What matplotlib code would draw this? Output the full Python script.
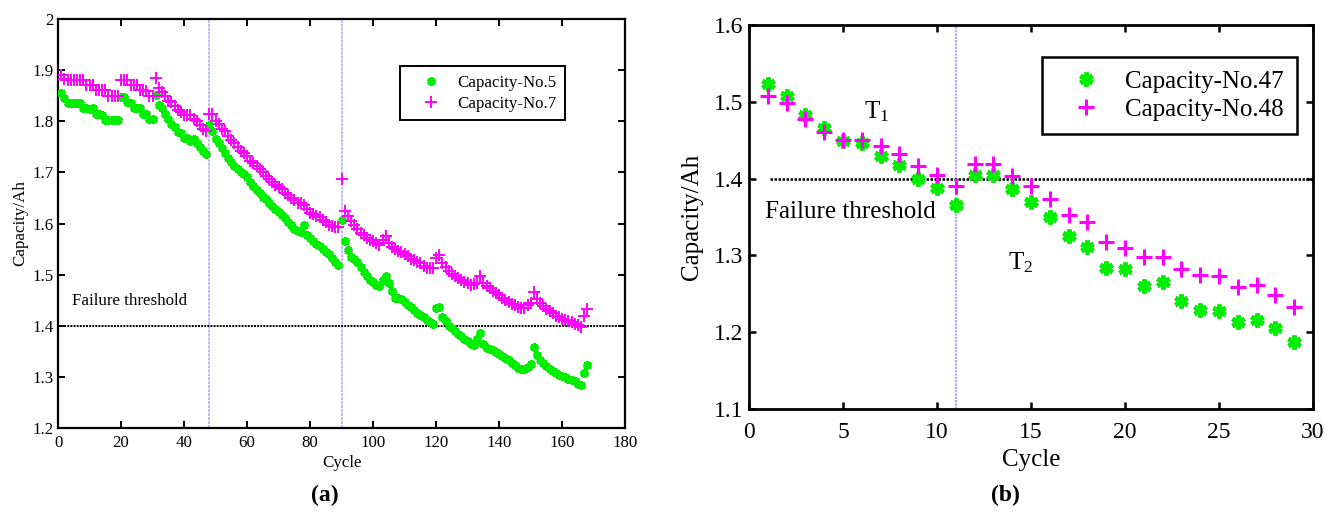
import numpy as np
import matplotlib
matplotlib.use("Agg")
import matplotlib.pyplot as plt

plt.rcParams['font.family'] = ['Liberation Serif', 'DejaVu Serif']
plt.rcParams['mathtext.fontset'] = 'stix'

# ---------------- Panel (a) data: NASA battery No.5 / No.7 ----------------
cap5_seg1 = [1.856, 1.846, 1.835, 1.835, 1.835, 1.836, 1.835, 1.825, 1.825, 1.824,
             1.825, 1.814, 1.814, 1.813, 1.803, 1.802, 1.803, 1.803, 1.803]
cap5_seg2 = [1.847, 1.847, 1.837, 1.836, 1.826, 1.826, 1.825, 1.815, 1.815, 1.805, 1.804]
cap5_seg3 = [1.852, 1.831, 1.825, 1.815, 1.805, 1.795, 1.788, 1.778, 1.777, 1.767,
             1.767, 1.762, 1.766, 1.757, 1.750, 1.741, 1.735]
cap5_seg4 = [1.793, 1.780, 1.765, 1.757, 1.748, 1.738, 1.728, 1.720, 1.712, 1.707,
             1.700, 1.697, 1.690, 1.682, 1.673, 1.665, 1.660, 1.652, 1.648, 1.640,
             1.635, 1.628, 1.622, 1.617, 1.610, 1.603, 1.597, 1.590, 1.585, 1.583,
             1.597, 1.578, 1.572, 1.565, 1.560, 1.556, 1.550, 1.545, 1.540, 1.532,
             1.525, 1.518]
cap5_seg5 = [1.607, 1.565, 1.548, 1.535, 1.530, 1.524, 1.515, 1.506, 1.498, 1.490,
             1.485, 1.480, 1.478, 1.490, 1.497, 1.484, 1.468, 1.455, 1.455, 1.452,
             1.446, 1.441, 1.436, 1.430, 1.425, 1.421, 1.417, 1.412, 1.408, 1.404,
             1.434, 1.437, 1.418, 1.410, 1.400, 1.396, 1.390, 1.384, 1.380, 1.375,
             1.370, 1.365, 1.362, 1.375, 1.386, 1.365, 1.356, 1.355, 1.352, 1.349,
             1.345, 1.340, 1.336, 1.333, 1.328, 1.323, 1.318, 1.316, 1.316, 1.320,
             1.326, 1.359, 1.342, 1.334, 1.327, 1.322, 1.316, 1.311, 1.307, 1.303,
             1.301, 1.300, 1.296, 1.293, 1.291, 1.287, 1.285, 1.307, 1.324]
cap5 = cap5_seg1 + cap5_seg2 + cap5_seg3 + cap5_seg4 + cap5_seg5

cap7_seg1 = [1.891, 1.882, 1.881, 1.881, 1.881, 1.881, 1.881, 1.881, 1.871, 1.871,
             1.871, 1.861, 1.861, 1.861, 1.861, 1.850, 1.850, 1.849, 1.849]
cap7_seg2 = [1.881, 1.881, 1.880, 1.871, 1.871, 1.870, 1.862, 1.861, 1.860, 1.850, 1.850]
cap7_seg3 = [1.884, 1.865, 1.858, 1.850, 1.840, 1.838, 1.830, 1.822, 1.818, 1.812,
             1.812, 1.812, 1.805, 1.800, 1.792, 1.785, 1.780]
cap7_seg4 = [1.815, 1.815, 1.800, 1.795, 1.785, 1.780, 1.772, 1.763, 1.757, 1.750,
             1.742, 1.738, 1.732, 1.723, 1.718, 1.712, 1.706, 1.700, 1.693, 1.688,
             1.682, 1.676, 1.672, 1.667, 1.660, 1.655, 1.650, 1.645, 1.640, 1.641,
             1.636, 1.628, 1.620, 1.618, 1.614, 1.612, 1.607, 1.602, 1.598, 1.596,
             1.594, 1.593]
cap7_seg5 = [1.688, 1.625, 1.615, 1.605, 1.598, 1.590, 1.582, 1.577, 1.572, 1.568,
             1.566, 1.561, 1.558, 1.568, 1.575, 1.562, 1.555, 1.550, 1.547, 1.545,
             1.540, 1.536, 1.531, 1.528, 1.525, 1.522, 1.517, 1.513, 1.512, 1.512,
             1.532, 1.538, 1.522, 1.515, 1.508, 1.502, 1.498, 1.493, 1.489, 1.486,
             1.483, 1.480, 1.482, 1.484, 1.498, 1.483, 1.478, 1.473, 1.468, 1.465,
             1.460, 1.455, 1.451, 1.447, 1.443, 1.440, 1.437, 1.435, 1.434, 1.440,
             1.445, 1.466, 1.452, 1.445, 1.438, 1.433, 1.428, 1.424, 1.420, 1.417,
             1.414, 1.411, 1.409, 1.407, 1.404, 1.401, 1.398, 1.420, 1.432]
cap7 = cap7_seg1 + cap7_seg2 + cap7_seg3 + cap7_seg4 + cap7_seg5

vlines_a = [48, 90]
threshold_a = 1.4

# ---------------- Panel (b) data: No.47 / No.48 ----------------
cycles_b = list(range(1, 30))
cap47 = [1.523, 1.508, 1.483, 1.466, 1.449, 1.447, 1.430, 1.418, 1.400, 1.388,
         1.365, 1.405, 1.405, 1.387, 1.370, 1.350, 1.325, 1.311, 1.284, 1.282,
         1.260, 1.265, 1.241, 1.229, 1.227, 1.213, 1.216, 1.206, 1.187]
cap48 = [1.507, 1.498, 1.478, 1.461, 1.450, 1.450, 1.443, 1.432, 1.416, 1.405,
         1.390, 1.419, 1.419, 1.403, 1.390, 1.373, 1.353, 1.343, 1.318, 1.310,
         1.298, 1.298, 1.282, 1.275, 1.273, 1.259, 1.262, 1.249, 1.233]
vline_b = 11
threshold_b = 1.4

GREEN = '#00ee00'
MAGENTA = '#ff00ff'
VBLUE = '#a8acff'

fig = plt.figure(figsize=(13.41, 5.19), dpi=100)

# ---------------- Panel (a) ----------------
FA = 12.2
axa = fig.add_axes([0.0433, 0.1753, 0.4229, 0.7881])
x5 = np.arange(1, len(cap5) + 1)
x7 = np.arange(1, len(cap7) + 1)
for v in vlines_a:
    axa.axvline(v, color=VBLUE, lw=1.1, ls=(0, (2, 0.6)), zorder=1)
axa.axhline(threshold_a, color='black', lw=1.4, ls=(0, (1, 0.6)), zorder=1)
axa.plot(x5, cap5, ls='none', marker=(6, 2, 0), ms=6, mew=2.3,
         color=GREEN, mec=GREEN, label='Capacity-No.5', zorder=3)
axa.plot(x7, cap7, ls='none', marker='+', ms=8.5, mew=1.4,
         color=MAGENTA, label='Capacity-No.7', zorder=3)
axa.set_xlim(0, 180)
axa.set_ylim(1.2, 2.0)
axa.set_xticks(np.arange(0, 181, 20))
axa.set_yticks(np.arange(1.2, 2.01, 0.1))
axa.set_yticklabels(['1.2', '1.3', '1.4', '1.5', '1.6', '1.7', '1.8', '1.9', '2'])
axa.tick_params(direction='in', top=True, right=True, length=5, width=1.4,
                labelsize=FA, pad=3)
axa.tick_params(axis='x', pad=5)
for s in axa.spines.values():
    s.set_linewidth(1.6)
axa.set_xlabel('Cycle', fontsize=FA, labelpad=3)
axa.set_ylabel('Capacity/Ah', fontsize=FA, labelpad=3)
axa.text(4.5, 1.448, 'Failure threshold', fontsize=FA, va='center', ha='left')
lega = axa.legend(loc='upper left', bbox_to_anchor=(0.603, 0.885), borderaxespad=0,
                  fancybox=False, edgecolor='black', fontsize=FA,
                  handletextpad=0.3, borderpad=0.5, handlelength=2.6,
                  labelspacing=0.3, framealpha=1)
lega.get_frame().set_linewidth(1.4)
fig.text(0.2425, 0.035, '(a)', fontsize=17, fontweight='bold', ha='center')

# ---------------- Panel (b) ----------------
FT = 17
FB = 18
axb = fig.add_axes([0.5585, 0.2119, 0.4206, 0.7399])
axb.axvline(vline_b, color=VBLUE, lw=1.6, ls=(0, (1, 0.5)), zorder=1)
axb.plot([1.1, 30], [threshold_b, threshold_b], color='black', lw=1.8,
         ls=(0, (1, 0.6)), zorder=1)
axb.plot(cycles_b, cap47, ls='none', marker=(6, 2, 0), ms=10, mew=3.2,
         color=GREEN, mec=GREEN, label='Capacity-No.47', zorder=3)
axb.plot(cycles_b, cap48, ls='none', marker='+', ms=12, mew=2.2,
         color=MAGENTA, label='Capacity-No.48', zorder=3)
axb.set_xlim(0, 30)
axb.set_ylim(1.1, 1.6)
axb.set_xticks(np.arange(0, 31, 5))
axb.set_yticks(np.arange(1.1, 1.61, 0.1))
axb.set_yticklabels(['1.1', '1.2', '1.3', '1.4', '1.5', '1.6'])
axb.tick_params(direction='in', top=True, right=True, length=5, width=1.8,
                labelsize=FT, pad=4)
axb.tick_params(axis='x', pad=9)
for s in axb.spines.values():
    s.set_linewidth(2.0)
axb.set_xlabel('Cycle', fontsize=FB, labelpad=5)
axb.set_ylabel('Capacity/Ah', fontsize=FB, labelpad=8)
axb.text(0.85, 1.357, 'Failure threshold', fontsize=FB, va='center', ha='left')
axb.text(6.1, 1.487, r'T$_{\mathregular{1}}$', fontsize=FB, va='center', ha='left')
axb.text(13.8, 1.29, r'T$_{\mathregular{2}}$', fontsize=FB, va='center', ha='left')
legb = axb.legend(loc='upper left', bbox_to_anchor=(0.52, 0.917), borderaxespad=0,
                  fancybox=False, edgecolor='black', fontsize=FB,
                  handletextpad=0.36, borderpad=0.55, handlelength=2.4,
                  labelspacing=0.2, framealpha=1)
legb.get_frame().set_linewidth(1.8)
fig.text(0.7495, 0.035, '(b)', fontsize=17, fontweight='bold', ha='center')

fig.savefig('out.png', dpi=100)
